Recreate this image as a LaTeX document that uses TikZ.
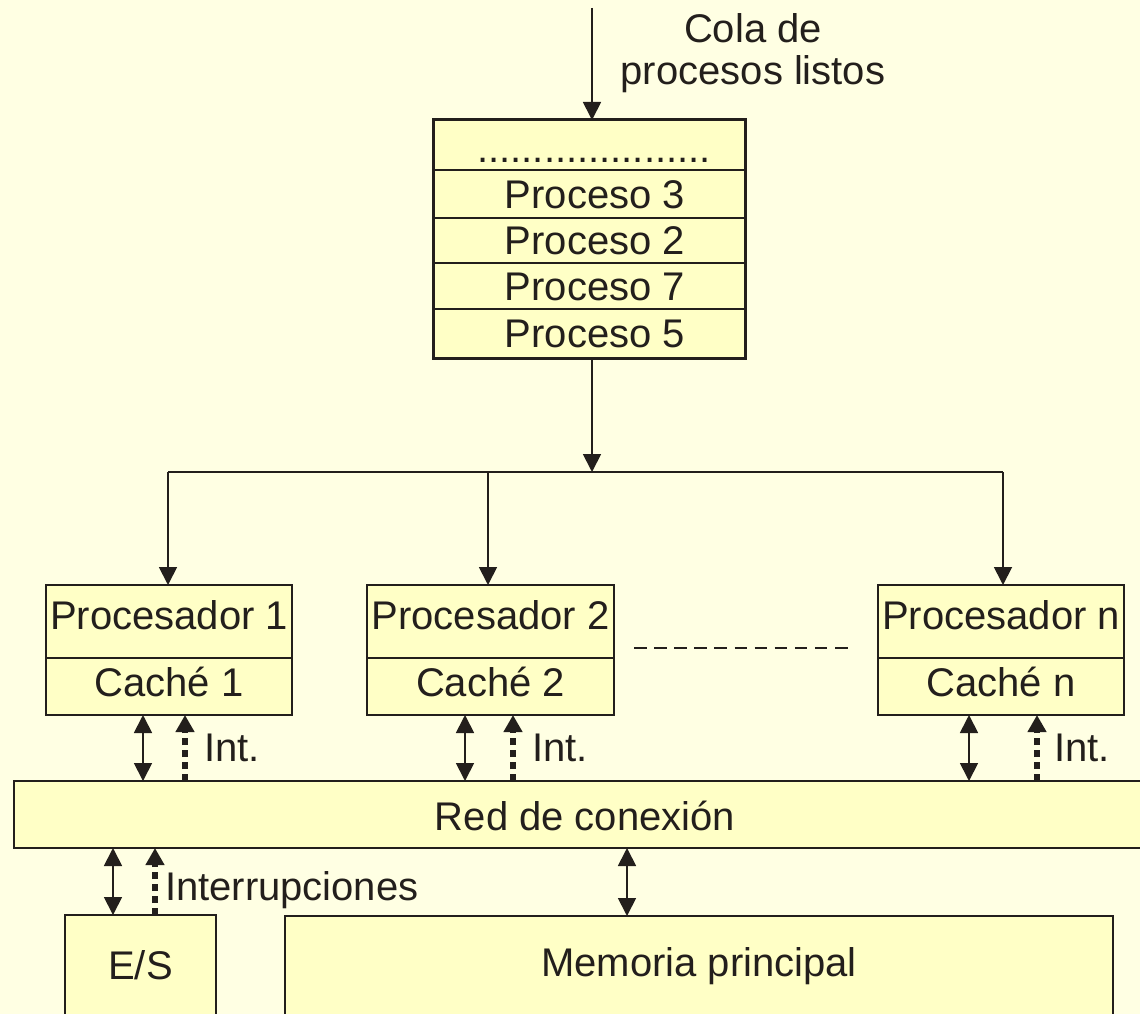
\documentclass[tikz,border=0pt]{standalone}
\usepackage{fontspec}
\setmainfont{Liberation Sans}
\usetikzlibrary{arrows.meta}
\definecolor{bgc}{HTML}{FFFFE3}
\definecolor{boxc}{HTML}{FFFFC6}
\definecolor{ink}{HTML}{231F1C}

\begin{document}
\begin{tikzpicture}[x=1pt,y=-1pt,
  every node/.style={font=\fontsize{40}{43}\selectfont, text=ink, inner sep=0pt, outer sep=0pt},
  cell/.style={draw=ink, fill=boxc, line width=2pt, rectangle, anchor=north west,
               text height=28pt, text depth=0pt},
  conn/.style={draw=ink, line width=1.8pt, -{Triangle[length=18pt,width=18pt]}},
  biconn/.style={draw=ink, line width=1.8pt,
                 {Triangle[length=18pt,width=18pt]}-{Triangle[length=18pt,width=18pt]}},
  intconn/.style={draw=ink, line width=5.5pt, dash pattern=on 7pt off 5pt,
                  -{Triangle[length=17pt,width=18pt]}},
  lbl/.style={anchor=base west},
]
% page and background
\fill[bgc] (0,0) rectangle (1140,1014);
\useasboundingbox (0,0) rectangle (1140,1014);
\clip (0,0) rectangle (1140,1014);

% ready queue
\node[lbl, anchor=base] (title1) at (753,43) {Cola de};
\node[lbl, anchor=base] (title2) at (753,85) {procesos listos};
\coordinate (qin) at (592,8);

\node[cell, minimum width=312pt, minimum height=50pt] (q0) at (433,120)
  {\raisebox{-3pt}{\makebox[0pt]{\hspace*{10pt}.....................}}};
\node[cell, minimum width=312pt, minimum height=48pt] (q1) at (433,170) {\hspace*{12pt}Proceso 3};
\node[cell, minimum width=312pt, minimum height=45pt] (q2) at (433,218) {\hspace*{12pt}Proceso 2};
\node[cell, minimum width=312pt, minimum height=46pt] (q3) at (433,263) {\hspace*{12pt}Proceso 7};
\node[cell, minimum width=312pt, minimum height=49pt] (q4) at (433,309) {\hspace*{12pt}Proceso 5};
\draw[ink, line width=3pt] (q0.north west) rectangle (q4.south east);

% dispatch bus
\coordinate (xq) at (592,0);
\coordinate (bus) at (592,472);
\coordinate (busL) at (168,472);
\coordinate (busR) at (1003,472);
\coordinate (x1) at (168,0);
\coordinate (x2) at (488,0);
\coordinate (xn) at (1003,0);

% processors with their caches
\node[cell, minimum width=246pt, minimum height=73pt] (p1) at (46,585) {\raisebox{6pt}{Procesador 1}};
\node[cell, minimum width=246pt, minimum height=57pt] (c1) at (46,658) {\raisebox{3.6pt}{Caché 1}};
\node[cell, minimum width=247pt, minimum height=73pt] (p2) at (367,585) {\raisebox{6pt}{Procesador 2}};
\node[cell, minimum width=247pt, minimum height=57pt] (c2) at (367,658) {\raisebox{3.6pt}{Caché 2}};
\node[cell, minimum width=246pt, minimum height=73pt] (pn) at (878,585) {\raisebox{6pt}{Procesador n}};
\node[cell, minimum width=246pt, minimum height=57pt] (cn) at (878,658) {\raisebox{3.6pt}{Caché n}};

\coordinate (dotsL) at (634,648);
\coordinate (dotsR) at (848,648);
\draw[ink, line width=2pt, dash pattern=on 12.5pt off 7.6pt] (dotsL) -- (dotsR);

% interconnect, I/O and memory
\node[cell, minimum width=1142pt, minimum height=67pt] (red) at (14,781) {\raisebox{-1.5pt}{Red de conexión}};
\node[cell, minimum width=151pt, minimum height=120pt] (es) at (65,915) {\raisebox{9.5pt}{E/S}};
\node[cell, minimum width=828pt, minimum height=120pt] (mem) at (285,916) {\raisebox{13.3pt}{Memoria principal}};

% queue input and dispatch
\draw[conn] (qin) -- (q0.north -| qin);
\draw[conn] (q4.south -| xq) -- (bus);
\draw[draw=ink, line width=1.8pt] (busL) -- (busR);
\draw[conn] (busL) -- (p1.north -| x1);
\draw[conn] (bus -| x2) -- (p2.north -| x2);
\draw[conn] (busR) -- (pn.north -| xn);

% cache <-> network links and interrupt lines
\coordinate (a1) at (143,0);  \coordinate (i1) at (185,0);
\coordinate (a2) at (465,0);  \coordinate (i2) at (513,0);
\coordinate (an) at (969,0);  \coordinate (in) at (1037,0);
\draw[biconn] (c1.south -| a1) -- (red.north -| a1);
\draw[intconn] (red.north -| i1) -- (c1.south -| i1);
\draw[biconn] (c2.south -| a2) -- (red.north -| a2);
\draw[intconn] (red.north -| i2) -- (c2.south -| i2);
\draw[biconn] (cn.south -| an) -- (red.north -| an);
\draw[intconn] (red.north -| in) -- (cn.south -| in);
\node[lbl] (int1) at (204,761.7) {Int.};
\node[lbl] (int2) at (532,761.7) {Int.};
\node[lbl] (intn) at (1054,761.7) {Int.};

% I/O and memory links
\coordinate (ae) at (113,0);  \coordinate (ie) at (155,0);  \coordinate (am) at (627,0);
\draw[biconn] (red.south -| ae) -- (es.north -| ae);
\draw[intconn] (es.north -| ie) -- (red.south -| ie);
\node[lbl] (intes) at (165,900) {Interrupciones};
\draw[biconn] (red.south -| am) -- (mem.north -| am);
\end{tikzpicture}
\end{document}
